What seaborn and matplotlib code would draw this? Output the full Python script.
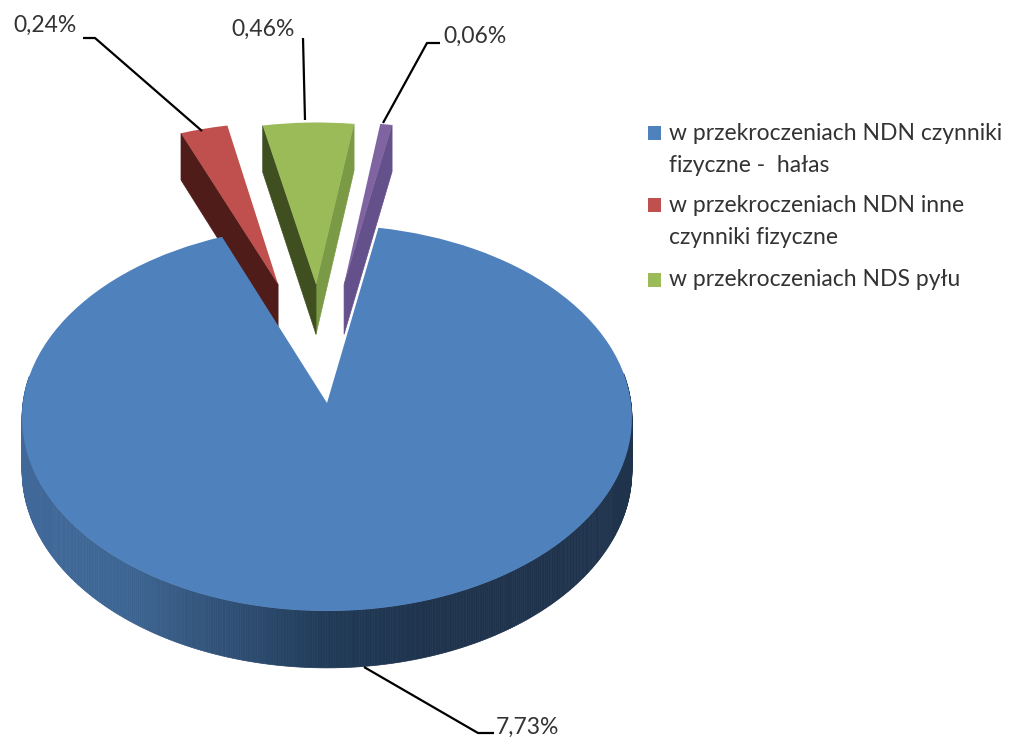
import numpy as np
import matplotlib
matplotlib.use("Agg")
import matplotlib.pyplot as plt
from matplotlib.transforms import Transform
import seaborn as sns

# data
values = [7.73, 0.24, 0.46, 0.06]
value_labels = ["7,73%", "0,24%", "0,46%", "0,06%"]
legend_labels = [
    "w przekroczeniach NDN czynniki\nfizyczne -  hałas",
    "w przekroczeniach NDN inne\nczynniki fizyczne",
    "w przekroczeniach NDS pyłu",
]

# look
top_colors = ["#4F81BD", "#C0504D", "#9BBB59", "#8064A2"]
left_walls = [None, "#4F1C1A", "#3F4F20", None]
right_walls = [None, None, "#7A9A45", "#64508A"]
blue_wall = sns.blend_palette(["#40699A", "#3D6592", "#2F5076", "#203A57", "#1F334D", "#1F334D", "#1F334D"], 240)

# pie seen from above: unit disc -> pixels
CX, CY, RX, RY, K, DEPTH = 327.0, 403.0, 304.0, 191.8, 0.0777, 52.5
slice_offsets = [(0.0, 0.0), (-0.169, 0.65), (-0.038, 0.65), (0.059, 0.65)]


def project(u, v):
    d = 1 + K * v
    return CX + RX * u / d, CY - RY * v / d, DEPTH / d


class Perspective(Transform):
    input_dims = 2
    output_dims = 2
    is_separable = False
    has_inverse = False

    def transform_non_affine(self, values):
        u, v = np.asarray(values).T
        x, y, _ = project(u, v)
        return np.column_stack([x, y])


def draw_wall(ax, p, q, color, zorder):
    x0, y0, d0 = project(*p)
    x1, y1, d1 = project(*q)
    ax.fill([x0, x1, x1, x0], [y0, y1, y1 + d1, y0 + d0], color=color, lw=0.5, zorder=zorder)


sns.set_theme(style="white")
plt.rcParams["font.family"] = ["Lato", "DejaVu Sans"]

fig = plt.figure(figsize=(10.22, 7.38), dpi=100)
ax = fig.add_axes([0, 0, 1, 1])

wedges, _ = ax.pie(values, colors=top_colors, startangle=79.5, counterclock=False,
                   radius=1, wedgeprops={"linewidth": 0})
ax.set_aspect("auto")
ax.set_xlim(0, 1022)
ax.set_ylim(738, 0)
ax.axis("off")

persp = Perspective() + ax.transData
for i, w in enumerate(wedges):
    w.set_center(slice_offsets[i])
    w.set_transform(persp)
    w.set_zorder(4 if i == 0 else 2)
    cu, cv = slice_offsets[i]

    # side walls along the two cut edges, only those facing the viewer
    for theta, normal, color in [(w.theta1, w.theta1 - 90, right_walls[i]),
                                 (w.theta2, w.theta2 + 90, left_walls[i])]:
        if color is None or np.sin(np.radians(normal)) >= 0:
            continue
        t = np.radians(theta)
        draw_wall(ax, (cu, cv), (cu + np.cos(t), cv + np.sin(t)), color, 1)

# rim of the big slice
angles = np.radians(np.linspace(wedges[0].theta1, wedges[0].theta2, 721))
rim_u, rim_v = np.cos(angles), np.sin(angles)
for j in range(len(angles) - 1):
    if rim_v[j] > 0.15:
        continue
    xpos = project(rim_u[j], rim_v[j])[0]
    k = int(np.clip((xpos - 23) / 610 * 239, 0, 239))
    draw_wall(ax, (rim_u[j], rim_v[j]), (rim_u[j + 1], rim_v[j + 1]), blue_wall[k], 3)

# leader lines
leaders = [
    ([494, 478, 364], [733, 733, 667]),
    ([83, 95, 202], [38, 38, 131]),
    ([303, 305], [38, 120]),
    ([440, 427, 383], [43, 43, 123]),
]
for lx, ly in leaders:
    ax.plot(lx, ly, color="black", lw=1.6, zorder=5, solid_capstyle="butt")

label_pos = [(496, 727), (13, 25), (231, 29), (443, 36)]
for (x, y), txt in zip(label_pos, value_labels):
    ax.text(x, y, txt, fontsize=16.5, color="#333333", ha="left", va="center", zorder=6)

# legend
legend_y = [133, 205, 280]
line_gap = 32.5
ax.scatter([654.5] * 3, legend_y, marker="s", s=100, c=top_colors[:3], linewidths=0, zorder=6)
for y, txt in zip(legend_y, legend_labels):
    for n, line in enumerate(txt.split("\n")):
        ax.text(669, y + n * line_gap, line, fontsize=16.5, color="#333333",
                ha="left", va="center", zorder=6)

fig.savefig("out.png", dpi=100, facecolor="white")
